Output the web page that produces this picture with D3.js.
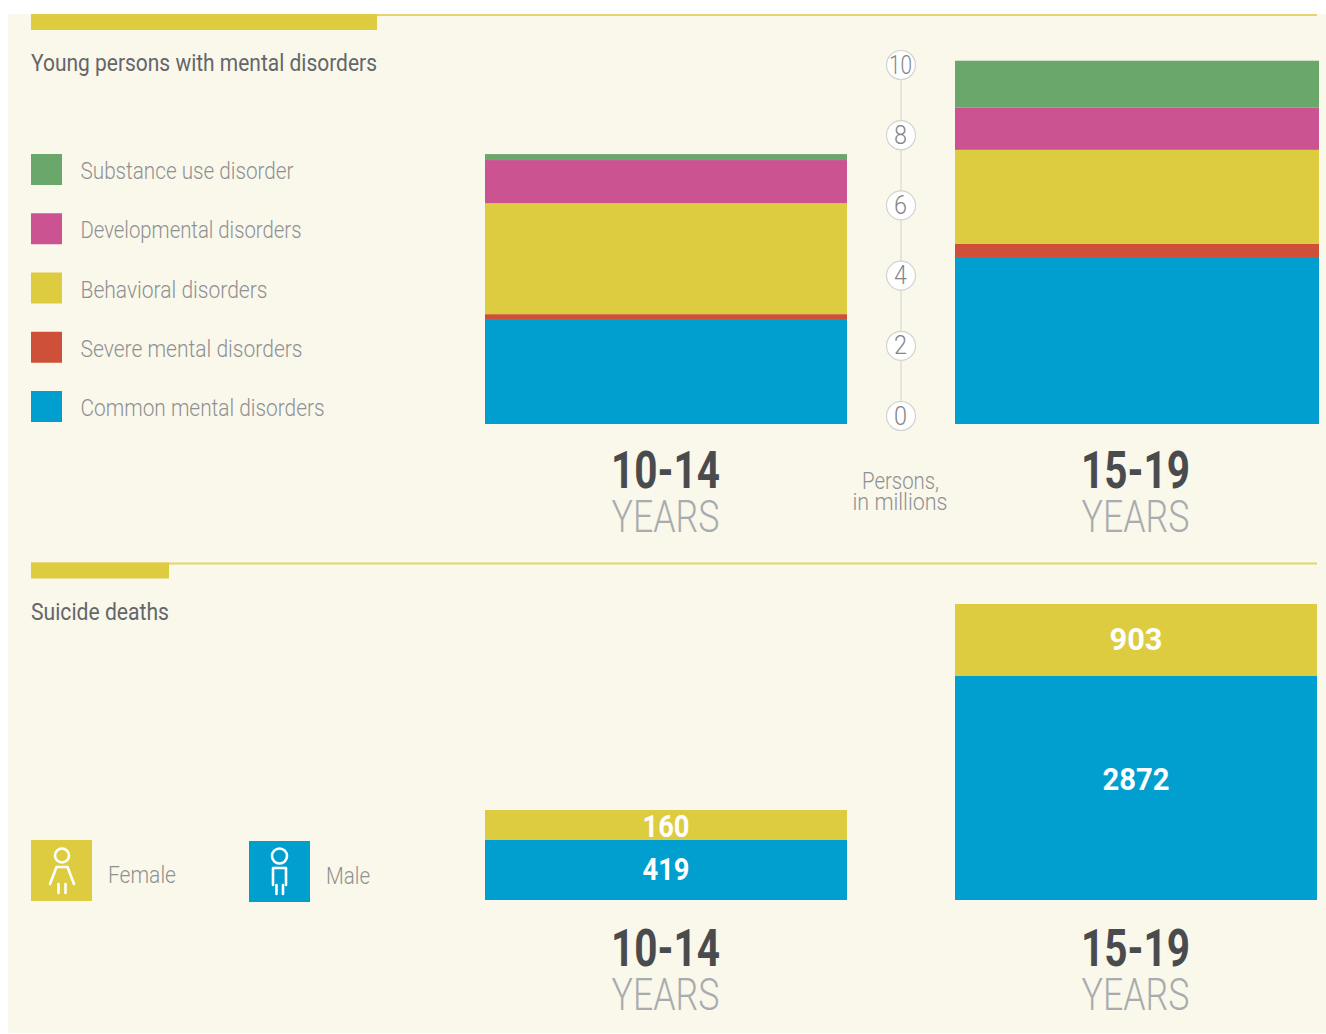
<!DOCTYPE html>
<html><head><meta charset="utf-8">
<script src="https://cdn.jsdelivr.net/npm/d3@7/dist/d3.min.js"></script>
<style>html,body{margin:0;padding:0;background:#fff;overflow:hidden}svg{display:block}</style>
</head><body><svg id="c" width="1326" height="1034"></svg>
<script>
const disorderKeys = ["Common mental disorders","Severe mental disorders","Behavioral disorders","Developmental disorders","Substance use disorder"];
const disorderColors = ["#009fcf","#cf5038","#ddcc3f","#cb5391","#6aa76a"];
const legendOrder = ["Substance use disorder","Developmental disorders","Behavioral disorders","Severe mental disorders","Common mental disorders"];
const ages = ["10-14","15-19"];
const young1014 = [2.99,0.14,3.16,1.23,0.17];
const young1519 = [4.73,0.40,2.68,1.20,1.34];
const axisTicks = [0,2,4,6,8,10];
const suicideFemale = [160,903];
const suicideMale = [419,2872];

const FONT = "Roboto, 'Liberation Sans', sans-serif";
const INK = "#65666a", GREY = "#8f9093", LIGHT = "#a9abae", DARK = "#4a4b4d";
const YEL = "#ddcc3f", BLUE = "#009fcf", RULE = "#e3d66f";
const svg = d3.select("#c");

function txt(s,x,y,size,fill,width,opt={}){
  const t = svg.append("text").attr("x",x).attr("y",y).attr("font-family",FONT)
   .attr("font-size",size).attr("fill",fill).attr("font-weight",opt.w||300)
   .attr("text-anchor",opt.a||"start").text(s);
  if(width) t.attr("textLength",width).attr("lengthAdjust","spacingAndGlyphs");
  return t;
}
svg.append("rect").attr("x",8).attr("y",14).attr("width",1318).attr("height",1019).attr("fill","#f9f8eb");

// section headers
function header(y,barW,label,labelW){
  svg.append("rect").attr("x",31).attr("y",y).attr("width",1286).attr("height",2).attr("fill",RULE);
  svg.append("rect").attr("x",31).attr("y",y).attr("width",barW).attr("height",16).attr("fill",YEL);
  txt(label,31,y+57,23,INK,labelW,{w:400});
}
header(14,346,"Young persons with mental disorders",346);
header(562.5,138,"Suicide deaths",138);

// legend
const legendWidths = {"Substance use disorder":213,"Developmental disorders":221,"Behavioral disorders":187,"Severe mental disorders":222,"Common mental disorders":244};
const legendY = d3.scalePoint().domain(legendOrder).range([154,391]);
const colorOf = d3.scaleOrdinal().domain(disorderKeys).range(disorderColors);
legendOrder.forEach(k=>{
  svg.append("rect").attr("x",31).attr("y",legendY(k)).attr("width",31).attr("height",31).attr("fill",colorOf(k));
  txt(k,80.5,legendY(k)+25,24,GREY,legendWidths[k]);
});

// top stacked bars
const yBar = d3.scaleLinear().domain([0,10]).range([424,73]);
const xTop = {"10-14":[485,847],"15-19":[955,1319]};
[young1014,young1519].forEach((vals,i)=>{
  const [x0,x1]=xTop[ages[i]];
  let acc=0;
  vals.forEach((v,j)=>{
    svg.append("rect").attr("x",x0).attr("width",x1-x0)
      .attr("y",yBar(acc+v)).attr("height",yBar(acc)-yBar(acc+v)).attr("fill",disorderColors[j]);
    acc+=v;
  });
});

// axis
const yAxis = d3.scaleLinear().domain([0,10]).range([416,65]);
svg.append("line").attr("x1",901).attr("x2",901).attr("y1",yAxis(0)).attr("y2",yAxis(10)).attr("stroke","#dfdfd8").attr("stroke-width",1.5);
axisTicks.forEach(t=>{
  svg.append("circle").attr("cx",901).attr("cy",yAxis(t)).attr("r",14.5).attr("fill","#fff").attr("stroke","#d3d3d0").attr("stroke-width",1.2);
  txt(t,900.5,yAxis(t)+8.5,25,"#85868a",t===10?23:13,{a:"middle",w:300});
});
txt("Persons,",900.5,489,23,GREY,77,{a:"middle"});
txt("in millions",900,510,23,GREY,95,{a:"middle"});

// age labels
function ageLabel(age,cx,y){
  txt(age,cx,y,52,DARK,109,{a:"middle",w:700});
  txt("YEARS",cx,y+44,45,LIGHT,108,{a:"middle",w:300});
}
ageLabel(ages[0],665.5,488); ageLabel(ages[1],1135.5,488);
ageLabel(ages[0],665.5,966); ageLabel(ages[1],1135.5,966);

// bottom stacked bars (reference bars are not drawn proportionally: piecewise scale)
const hSuicide = d3.scaleLinear().domain([0,160,419,903,2872]).range([0,30,60,72,224]);
const xBot = {"10-14":[485,847],"15-19":[955,1317]};
const maleLabelY = [880,790], femaleLabelY = [837,650];
ages.forEach((a,i)=>{
  const [x0,x1]=xBot[a], cx=(x0+x1)/2, base=900;
  const hm=hSuicide(suicideMale[i]), hf=hSuicide(suicideFemale[i]);
  svg.append("rect").attr("x",x0).attr("width",x1-x0).attr("y",base-hm).attr("height",hm).attr("fill",BLUE);
  svg.append("rect").attr("x",x0).attr("width",x1-x0).attr("y",base-hm-hf).attr("height",hf).attr("fill",YEL);
  txt(suicideMale[i],cx,maleLabelY[i],31,"#fff",i?67:47,{a:"middle",w:700});
  txt(suicideFemale[i],cx,femaleLabelY[i],31,"#fff",i?53:47,{a:"middle",w:700});
});

// gender legend
function icon(x,y,fill,female){
  const g=svg.append("g").attr("transform",`translate(${x},${y})`);
  g.append("rect").attr("width",61).attr("height",61).attr("fill",fill);
  const st=s=>s.attr("fill","none").attr("stroke","#fff").attr("stroke-width",2.6).attr("stroke-linecap","round").attr("stroke-linejoin","round");
  if(female){
    st(g.append("circle").attr("cx",31).attr("cy",15.5).attr("r",7));
    st(g.append("path").attr("d","M19 44 L25.5 27 H36.5 L43 44"));
    st(g.append("path").attr("d","M27.5 44 V53 M34.5 44 V53"));
  } else {
    st(g.append("circle").attr("cx",30.5).attr("cy",15).attr("r",7.5));
    st(g.append("path").attr("d","M24 44 V27 H37 V44"));
    st(g.append("path").attr("d","M27.5 44 V53 M34 44 V53"));
  }
}
icon(31,840,YEL,true);
icon(249,841,BLUE,false);
txt("Female",108,883,23,GREY,68);
txt("Male",326,884,23,GREY,44);
</script></body></html>
